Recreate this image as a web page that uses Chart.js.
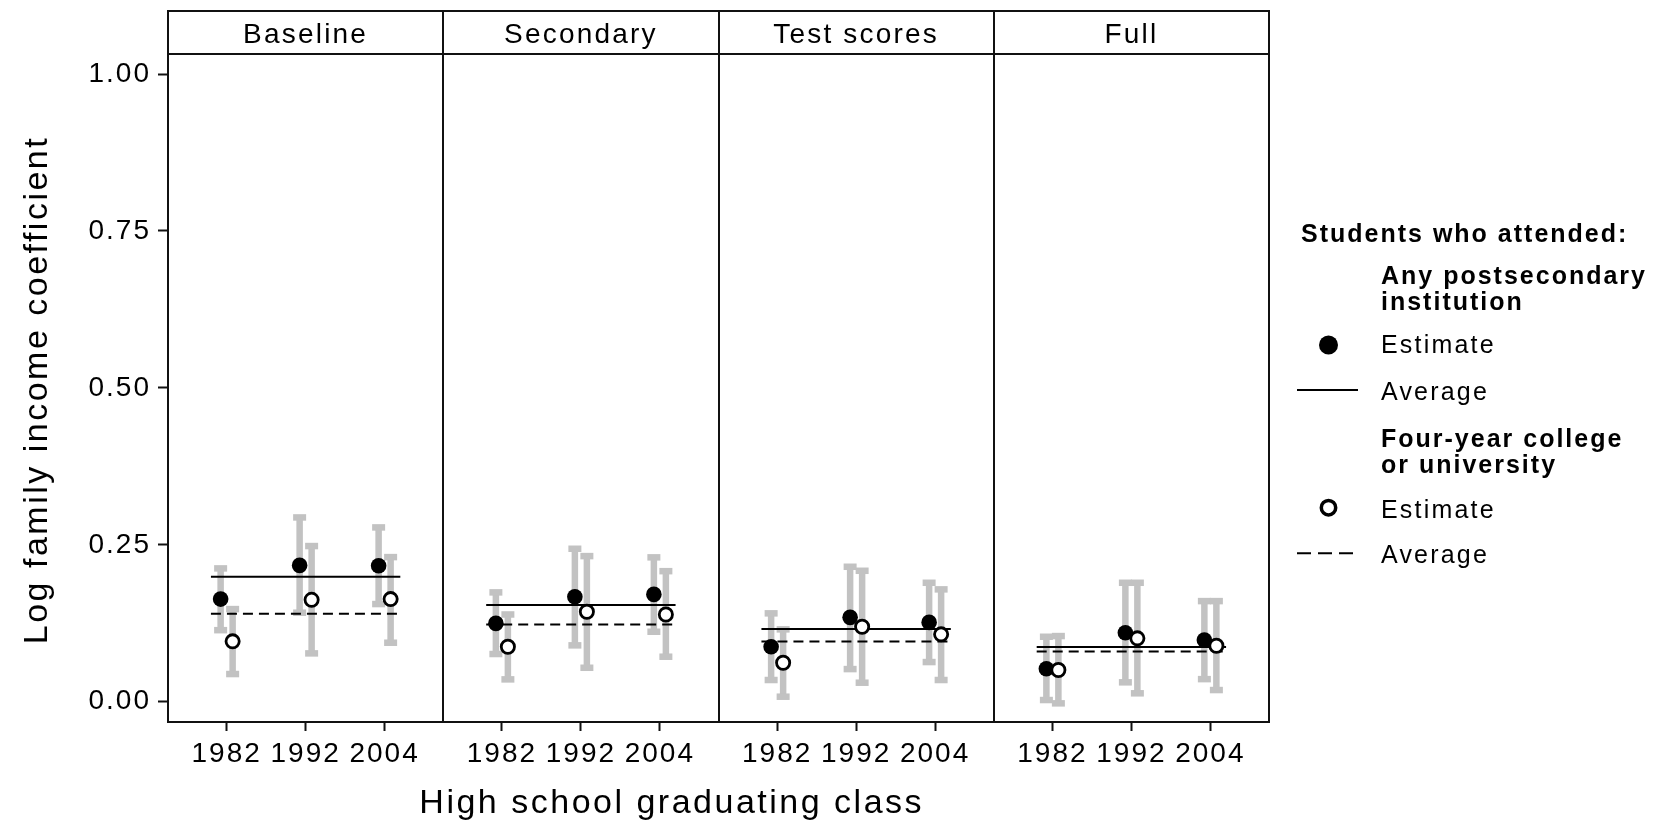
<!DOCTYPE html>
<html>
<head>
<meta charset="utf-8">
<script src="https://cdn.jsdelivr.net/npm/chart.js@4.4.1/dist/chart.umd.min.js"></script>
<style>
html,body{margin:0;padding:0;background:#fff;}
#wrap{width:1676px;height:826px;position:relative;}
</style>
</head>
<body>
<div id="wrap"><canvas id="c" width="1676" height="826"></canvas></div>
<script>
// ---------- data ----------
const panels = ['Baseline', 'Secondary', 'Test scores', 'Full'];
const years = ['1982', '1992', '2004'];
const yTicks = [0, 0.25, 0.5, 0.75, 1.0];

// Any postsecondary institution (filled), 3 years per panel, panels in order
const anyEst = [0.1635, 0.2172, 0.2166,  0.1248, 0.1672, 0.1710,  0.0876, 0.1344, 0.1264,  0.0526, 0.1099, 0.0982];
const anyLo  = [0.1140, 0.1418, 0.1556,  0.0760, 0.0898, 0.1115,  0.0346, 0.0520, 0.0632,  0.0027, 0.0309, 0.0360];
const anyHi  = [0.2124, 0.2936, 0.2777,  0.1742, 0.2437, 0.2300,  0.1408, 0.2150, 0.1895,  0.1035, 0.1895, 0.1603];
const anyAvg = [0.199, 0.154, 0.116, 0.087];

// Four-year college or university (hollow)
const fourEst = [0.0962, 0.1624, 0.1635,  0.0876, 0.1433, 0.1390,  0.0621, 0.1194, 0.1073,  0.0505, 0.1010, 0.0892];
const fourLo  = [0.0441, 0.0770, 0.0940,  0.0356, 0.0541, 0.0717,  0.0080, 0.0303, 0.0346, -0.0026, 0.0134, 0.0186];
const fourHi  = [0.1476, 0.2480, 0.2304,  0.1390, 0.2320, 0.2080,  0.1153, 0.2086, 0.1790,  0.1046, 0.1895, 0.1603];
const fourAvg = [0.140, 0.123, 0.096, 0.080];

// ---------- layout constants ----------
const FONT = '"Liberation Sans", Arial, Helvetica, sans-serif';
const SPACING = 0.287;   // distance between years inside one panel (panel width = 1)
const DODGE = 0.0218;    // horizontal offset of the two series
const AVG_HALF = 0.344;  // half length of average lines
const ERR = '#c2c2c2';

function xPos(p, c) { return p + 0.5 + (c - 1) * SPACING; }

const tickPositions = [];
const tickLabels = [];
panels.forEach((_, p) => years.forEach((yr, c) => { tickPositions.push(xPos(p, c)); tickLabels.push(yr); }));

function points(est, off) {
  const out = [];
  panels.forEach((_, p) => years.forEach((_, c) => out.push({ x: xPos(p, c) + off, y: est[p * 3 + c] })));
  return out;
}
function avgLine(avg) {
  const out = [];
  avg.forEach((v, p) => {
    out.push({ x: p + 0.5 - AVG_HALF, y: v });
    out.push({ x: p + 0.5 + AVG_HALF, y: v });
    out.push({ x: p + 0.95, y: null });
  });
  return out;
}

function txt(ctx, s, x, y, size, bold, align, ls) {
  ctx.save();
  ctx.font = (bold ? 'bold ' : '') + size + 'px ' + FONT;
  ctx.letterSpacing = (ls != null ? ls : size * 0.08) + 'px';
  ctx.fillStyle = '#000';
  ctx.textAlign = align || 'left';
  ctx.textBaseline = 'alphabetic';
  ctx.fillText(s, x, y);
  ctx.restore();
}

const spacingPlugin = {
  id: 'spacing',
  beforeUpdate(chart) { chart.ctx.letterSpacing = '2px'; },
  beforeDraw(chart) { chart.ctx.letterSpacing = '2px'; }
};

const errorBars = {
  id: 'errorBars',
  beforeDatasetsDraw(chart) {
    const { ctx, scales: { x, y } } = chart;
    ctx.save();
    ctx.fillStyle = ERR;
    const STEM = 6.5, CAP = 13, CAPH = 6.5;
    const series = [[anyLo, anyHi, -DODGE], [fourLo, fourHi, DODGE]];
    panels.forEach((_, p) => years.forEach((_, c) => {
      const i = p * 3 + c;
      series.forEach(([lo, hi, off]) => {
        const px = x.getPixelForValue(xPos(p, c) + off);
        const t = y.getPixelForValue(hi[i]);
        const b = y.getPixelForValue(lo[i]);
        ctx.fillRect(px - STEM / 2, t, STEM, b - t);
        ctx.fillRect(px - CAP / 2, t - CAPH / 2, CAP, CAPH);
        ctx.fillRect(px - CAP / 2, b - CAPH / 2, CAP, CAPH);
      });
    }));
    ctx.restore();
  }
};

const frame = {
  id: 'frame',
  afterDraw(chart) {
    const { ctx, chartArea: a, scales: { x, y } } = chart;
    const stripTop = 11;
    ctx.save();
    ctx.strokeStyle = '#111';
    ctx.lineWidth = 2;
    ctx.strokeRect(a.left, stripTop, a.right - a.left, a.bottom - stripTop);
    ctx.beginPath();
    ctx.moveTo(a.left, a.top); ctx.lineTo(a.right, a.top);
    for (let p = 1; p < panels.length; p++) {
      const px = Math.round(x.getPixelForValue(p));
      ctx.moveTo(px, stripTop); ctx.lineTo(px, a.bottom);
    }
    ctx.stroke();
    ctx.restore();
    // strip labels
    panels.forEach((name, p) => {
      txt(ctx, name, x.getPixelForValue(p + 0.5), 42.5, 28, false, 'center', 2.2);
    });
    // axis titles
    txt(ctx, 'High school graduating class', 671.7, 812.7, 34, false, 'center', 2.5);
    ctx.save();
    ctx.translate(47, (a.top + a.bottom) / 2 + 2);
    ctx.rotate(-Math.PI / 2);
    txt(ctx, 'Log family income coefficient', 0, 0, 34, false, 'center', 2.5);
    ctx.restore();
    // legend
    const L = 1381;
    txt(ctx, 'Students who attended:', 1301, 241.7, 25, true, 'left', 2);
    txt(ctx, 'Any postsecondary', L, 284, 25, true, 'left', 2);
    txt(ctx, 'institution', L, 310, 25, true, 'left', 2);
    ctx.save();
    ctx.fillStyle = '#000';
    ctx.beginPath(); ctx.arc(1328.5, 345, 9.5, 0, Math.PI * 2); ctx.fill();
    ctx.restore();
    txt(ctx, 'Estimate', L, 353.3, 25, false, 'left', 2.2);
    ctx.save();
    ctx.strokeStyle = '#000'; ctx.lineWidth = 2;
    ctx.beginPath(); ctx.moveTo(1297, 390); ctx.lineTo(1358, 390); ctx.stroke();
    ctx.restore();
    txt(ctx, 'Average', L, 400, 25, false, 'left', 2.2);
    txt(ctx, 'Four-year college', L, 446.7, 25, true, 'left', 2);
    txt(ctx, 'or university', L, 473.3, 25, true, 'left', 2);
    ctx.save();
    ctx.fillStyle = '#fff'; ctx.strokeStyle = '#000'; ctx.lineWidth = 3.5;
    ctx.beginPath(); ctx.arc(1328.5, 507.7, 7.2, 0, Math.PI * 2); ctx.fill(); ctx.stroke();
    ctx.strokeStyle = '#000'; ctx.lineWidth = 2; ctx.setLineDash([14, 7]);
    ctx.beginPath(); ctx.moveTo(1297, 553.3); ctx.lineTo(1358, 553.3); ctx.stroke();
    ctx.restore();
    txt(ctx, 'Estimate', L, 517.6, 25, false, 'left', 2.2);
    txt(ctx, 'Average', L, 563.3, 25, false, 'left', 2.2);
  }
};

const ctx = document.getElementById('c').getContext('2d');
new Chart(ctx, {
  type: 'scatter',
  data: {
    datasets: [
      { label: 'Four-year estimate', data: points(fourEst, DODGE), pointRadius: 6.6, pointHoverRadius: 6.6,
        pointBackgroundColor: '#fff', pointBorderColor: '#000', pointBorderWidth: 2.8, order: -1 },
      { label: 'Any estimate', data: points(anyEst, -DODGE), pointRadius: 7.8, pointHoverRadius: 7.8,
        pointBackgroundColor: '#000', pointBorderColor: '#000', pointBorderWidth: 0, order: 0 },
      { type: 'line', label: 'Any average', data: avgLine(anyAvg), borderColor: '#000', borderWidth: 2,
        pointRadius: 0, spanGaps: false, fill: false, order: 1 },
      { type: 'line', label: 'Four-year average', data: avgLine(fourAvg), borderColor: '#000', borderWidth: 2,
        borderDash: [10, 6], pointRadius: 0, spanGaps: false, fill: false, order: 1 }
    ]
  },
  options: {
    responsive: false,
    animation: false,
    devicePixelRatio: 1,
    layout: { padding: { left: 0, top: 54, right: 407, bottom: 0 } },
    plugins: { legend: { display: false }, tooltip: { enabled: false }, title: { display: false } },
    scales: {
      x: {
        type: 'linear', min: 0, max: panels.length,
        afterFit(s) { s.height = 104; },
        afterBuildTicks(s) { s.ticks = tickPositions.map(v => ({ value: v })); },
        grid: { drawOnChartArea: false, drawTicks: true, tickLength: 9, tickWidth: 2, tickColor: '#111' },
        border: { display: true, color: '#111', width: 2 },
        ticks: { autoSkip: false, maxRotation: 0, minRotation: 0, padding: 6, color: '#000',
          font: { family: FONT, size: 28 },
          callback: (v, i) => tickLabels[i] }
      },
      y: {
        min: -0.0323, max: 1.0319,
        afterFit(s) { s.width = 168; },
        afterBuildTicks(s) { s.ticks = yTicks.map(v => ({ value: v })); },
        grid: { drawOnChartArea: false, drawTicks: true, tickLength: 10, tickWidth: 2, tickColor: '#111' },
        border: { display: true, color: '#111', width: 2 },
        ticks: { padding: 7, color: '#000', font: { family: FONT, size: 28 },
          callback: v => Number(v).toFixed(2) }
      }
    }
  },
  plugins: [spacingPlugin, errorBars, frame]
});
</script>
</body>
</html>
